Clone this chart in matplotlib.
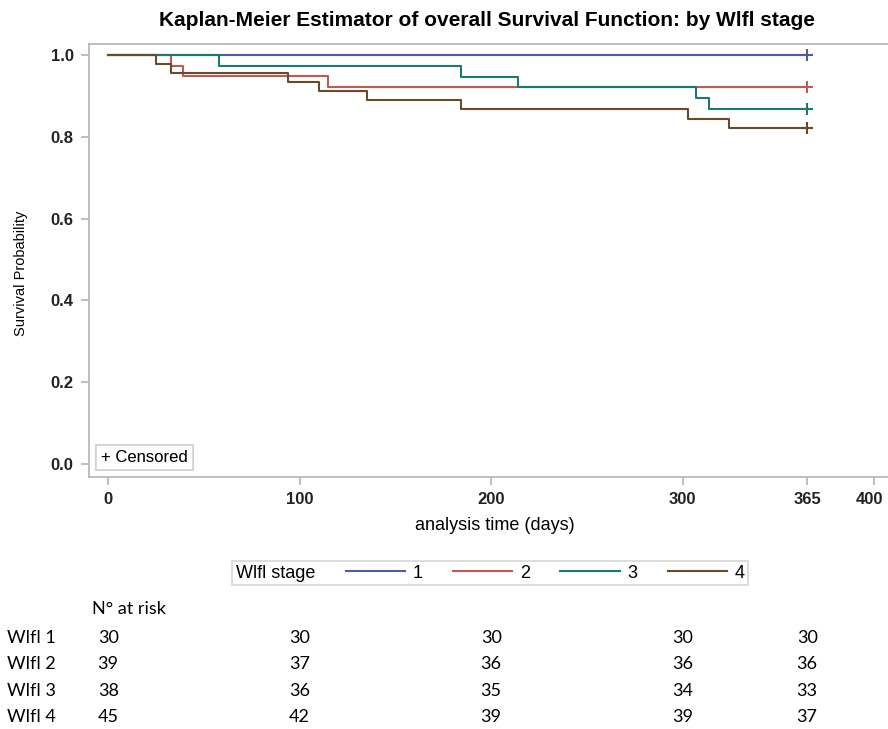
import matplotlib
matplotlib.use("Agg")
import matplotlib.pyplot as plt
from matplotlib.lines import Line2D
import matplotlib.transforms as mtransforms

# Datos de las curvas (tiempos de evento y supervivencia estimada)
tiempos_1 = [0]
superv_1 = [1.0]
tiempos_2 = [0, 33, 39, 115]
superv_2 = [1.0, 0.974, 0.949, 0.923]
tiempos_3 = [0, 58, 184, 214, 307, 314]
superv_3 = [1.0, 0.974, 0.947, 0.921, 0.895, 0.868]
tiempos_4 = [0, 25, 33, 94, 110, 135, 184, 303, 324]
superv_4 = [1.0, 0.978, 0.956, 0.933, 0.911, 0.889, 0.867, 0.844, 0.822]
tiempo_final = 365

etiquetas = ["1", "2", "3", "4"]
colores = ["#4e5ca2", "#bf5a52", "#1a7a70", "#6b4a2a"]

# Tabla de pacientes en riesgo
tiempos_riesgo = [0, 100, 200, 300, 365]
filas_riesgo = ["Wlfl 1", "Wlfl 2", "Wlfl 3", "Wlfl 4"]
riesgo_1 = [30, 30, 30, 30, 30]
riesgo_2 = [39, 37, 36, 36, 36]
riesgo_3 = [38, 36, 35, 34, 33]
riesgo_4 = [45, 42, 39, 39, 37]

x_ticks = [0, 100, 200, 300, 365, 400]
y_ticks = [0.0, 0.2, 0.4, 0.6, 0.8, 1.0]

plt.rcParams["font.family"] = ["Liberation Sans", "DejaVu Sans"]

W, H = 888, 729
fig = plt.figure(figsize=(W / 100, H / 100), dpi=100)
# ejes: borde izq 89px, arriba 44px, abajo 477px, derecho fuera de la imagen
ax = fig.add_axes([89 / W, 1 - 477 / H, 812 / W, (477 - 44) / H])
ax.set_xlim(-10, 414)
ax.set_ylim(-0.032, 1.027)

series = [(tiempos_1, superv_1), (tiempos_2, superv_2),
          (tiempos_3, superv_3), (tiempos_4, superv_4)]
lineas = []
for (t, s), c, lab in zip(series, colores, etiquetas):
    tt = list(t) + [tiempo_final]
    ss = list(s) + [s[-1]]
    ln, = ax.step(tt, ss, where="post", color=c, lw=1.5, label=lab)
    ax.plot([tiempo_final], [s[-1]], marker="+", ms=8, mew=1.5, color=c,
            ls="none")
    lineas.append(ln)

gris = "#b4b4b4"
for sp in ax.spines.values():
    sp.set_color(gris)
    sp.set_linewidth(1.2)
ax.set_xticks(x_ticks)
ax.set_yticks(y_ticks)
ax.set_xticklabels([str(v) for v in x_ticks])
ax.set_yticklabels(["%.1f" % v for v in y_ticks])
ax.tick_params(direction="out", length=6, color=gris, width=1.2,
               labelsize=12, pad=5)
for lbl in ax.get_xticklabels() + ax.get_yticklabels():
    lbl.set_fontweight("bold")
    lbl.set_color("#222222")
# la etiqueta 400 queda pegada al borde: correrla un poco a la izquierda
ult = ax.get_xticklabels()[-1]
ult.set_transform(ult.get_transform() +
                  mtransforms.ScaledTranslation(-5 / 100, 0, fig.dpi_scale_trans))
ax.set_xlabel("analysis time (days)", fontsize=13, labelpad=7)
ax.set_ylabel("Survival Probability", fontsize=10.5, labelpad=14)
ax.yaxis.set_label_coords(-0.075, 0.47)

fig.text(487 / W, 1 - 20 / H,
         "Kaplan-Meier Estimator of overall Survival Function: by Wlfl stage",
         fontsize=15, fontweight="bold", ha="center", va="center")

# leyenda de censurados
censor = ax.legend(handles=[Line2D([], [], ls="none")], labels=["+ Censored"],
                   loc="lower left", bbox_to_anchor=(0.009, 0.017),
                   handlelength=0, handletextpad=0, fontsize=12,
                   fancybox=False, edgecolor="#cccccc", borderpad=0.3,
                   borderaxespad=0)
censor.get_frame().set_linewidth(1.2)
ax.add_artist(censor)

# leyenda de grupos con el titulo a la izquierda
leg = fig.legend(handles=lineas, labels=etiquetas, title="Wlfl stage",
                 loc="center", bbox_to_anchor=(490 / W, 1 - 573 / H),
                 ncol=4, fontsize=13, title_fontsize=13, fancybox=False,
                 edgecolor="#cccccc", handlelength=3.3, handletextpad=0.4,
                 columnspacing=0.7, borderpad=0.2)
leg.get_frame().set_linewidth(1.2)
caja = leg.get_children()[0]
titulo = caja.get_children()[0]
columnas = caja.get_children()[1]
caja._children = [columnas]
columnas._children = [titulo] + columnas.get_children()
columnas.sep = 22

# tabla de numero en riesgo
trans = mtransforms.blended_transform_factory(ax.transData, fig.transFigure)
fuente_tabla = ["Lato", "DejaVu Sans"]
fig.text(92 / W, 1 - 609 / H, "N\u00b0 at risk", fontsize=13,
         family=fuente_tabla, va="center", ha="left")
for i, (fila, vals) in enumerate(zip(filas_riesgo,
                                     [riesgo_1, riesgo_2, riesgo_3, riesgo_4])):
    y = 1 - (638 + i * 26.3) / H
    fig.text(7 / W, y, fila, fontsize=13, family=fuente_tabla,
             va="center", ha="left")
    for t, v in zip(tiempos_riesgo, vals):
        ax.text(t, y, str(v), transform=trans, fontsize=13,
                family=fuente_tabla, va="center", ha="center", clip_on=False)

fig.savefig("out.png", dpi=100)
